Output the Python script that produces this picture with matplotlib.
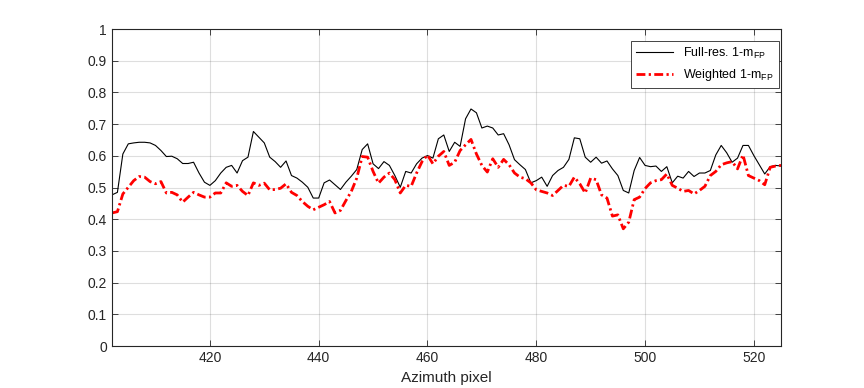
import numpy as np
import matplotlib.pyplot as plt

plt.rcParams['font.family'] = ['Liberation Sans', 'DejaVu Sans']
plt.rcParams['mathtext.fontset'] = 'custom'
plt.rcParams['mathtext.rm'] = 'Liberation Sans'

# azimuth pixel index
azimuth = np.arange(402, 526)

full_res = [0.477, 0.485, 0.606, 0.638, 0.641, 0.643, 0.643, 0.641, 0.633, 0.617,
            0.598, 0.599, 0.591, 0.576, 0.576, 0.580, 0.546, 0.517, 0.507, 0.522,
            0.546, 0.564, 0.570, 0.546, 0.585, 0.596, 0.677, 0.659, 0.641, 0.596,
            0.582, 0.564, 0.584, 0.538, 0.530, 0.517, 0.501, 0.467, 0.467, 0.515,
            0.524, 0.509, 0.494, 0.517, 0.536, 0.557, 0.620, 0.638, 0.575, 0.560,
            0.582, 0.570, 0.538, 0.501, 0.551, 0.546, 0.575, 0.593, 0.601, 0.593,
            0.654, 0.666, 0.614, 0.643, 0.630, 0.717, 0.748, 0.736, 0.688, 0.694,
            0.688, 0.666, 0.670, 0.635, 0.588, 0.572, 0.557, 0.515, 0.522, 0.533,
            0.504, 0.538, 0.554, 0.564, 0.589, 0.657, 0.654, 0.596, 0.580, 0.596,
            0.577, 0.584, 0.559, 0.538, 0.491, 0.483, 0.554, 0.595, 0.570, 0.566,
            0.568, 0.551, 0.566, 0.515, 0.536, 0.530, 0.551, 0.535, 0.546, 0.546,
            0.554, 0.603, 0.633, 0.610, 0.580, 0.593, 0.633, 0.633, 0.601, 0.572,
            0.543, 0.566, 0.570, 0.568]

weighted = [0.420, 0.424, 0.480, 0.501, 0.522, 0.535, 0.533, 0.519, 0.512, 0.519,
            0.483, 0.485, 0.477, 0.454, 0.470, 0.485, 0.477, 0.470, 0.470, 0.483,
            0.483, 0.515, 0.504, 0.507, 0.488, 0.475, 0.515, 0.507, 0.514, 0.493,
            0.494, 0.498, 0.512, 0.485, 0.475, 0.456, 0.441, 0.430, 0.438, 0.446,
            0.456, 0.420, 0.428, 0.459, 0.488, 0.530, 0.598, 0.596, 0.551, 0.514,
            0.533, 0.546, 0.525, 0.483, 0.507, 0.504, 0.546, 0.582, 0.603, 0.575,
            0.599, 0.614, 0.570, 0.580, 0.617, 0.635, 0.652, 0.606, 0.570, 0.549,
            0.591, 0.564, 0.589, 0.572, 0.546, 0.533, 0.528, 0.515, 0.493, 0.488,
            0.483, 0.475, 0.491, 0.507, 0.504, 0.533, 0.512, 0.483, 0.530, 0.525,
            0.477, 0.467, 0.410, 0.414, 0.370, 0.391, 0.462, 0.470, 0.497, 0.515,
            0.522, 0.525, 0.543, 0.507, 0.498, 0.488, 0.491, 0.480, 0.491, 0.504,
            0.538, 0.551, 0.572, 0.578, 0.582, 0.559, 0.603, 0.538, 0.530, 0.522,
            0.509, 0.564, 0.568, 0.570]

axcol = (0.15, 0.15, 0.15)

fig = plt.figure(figsize=(8.64, 3.88), dpi=100)
ax = fig.add_axes([0.1296, 0.108, 0.7744, 0.817])

ax.plot(azimuth, full_res, color='black', linewidth=0.8, label='Full-res. 1-m$_{\\mathrm{FP}}$')
ax.plot(azimuth, weighted, color=(1, 0, 0), linewidth=2.0, dashes=(3.2, 1.2, 0.8, 1.2),
        label='Weighted 1-m$_{\\mathrm{FP}}$')

ax.set_xlim(402, 525)
ax.set_ylim(0, 1)
ax.set_xticks(np.arange(420, 521, 20))
ax.set_yticks(np.arange(0, 1.01, 0.1))
ax.set_yticklabels(['0', '0.1', '0.2', '0.3', '0.4', '0.5', '0.6', '0.7', '0.8', '0.9', '1'])

ax.grid(True, color=axcol, alpha=0.15, linewidth=0.8)
ax.tick_params(direction='in', length=4, width=0.6, top=True, right=True,
               labelsize=10, colors=axcol, labelcolor=axcol)
for sp in ax.spines.values():
    sp.set_color(axcol)
    sp.set_linewidth(0.8)

ax.set_xlabel('Azimuth pixel', fontsize=11, color=axcol)

leg = ax.legend(loc='upper right', bbox_to_anchor=(0.997, 0.963), fontsize=9,
                fancybox=False, framealpha=1, edgecolor=axcol, handlelength=3.0,
                borderaxespad=0)
leg.get_frame().set_linewidth(0.6)

plt.savefig('out.png', dpi=100)
